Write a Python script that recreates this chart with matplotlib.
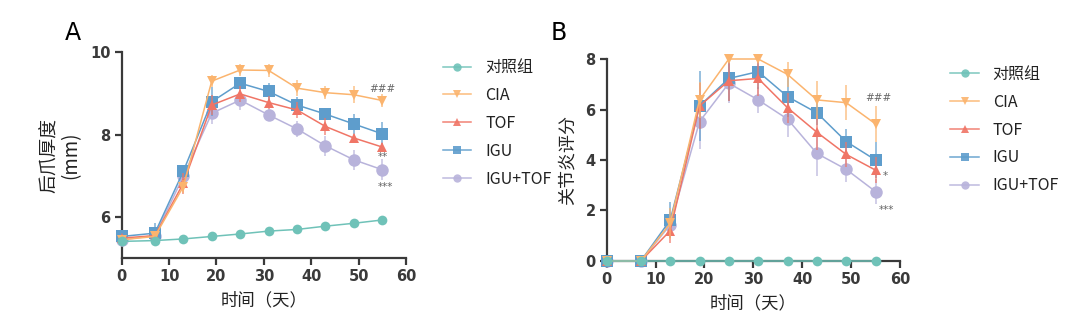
import numpy as np
import matplotlib.pyplot as plt
from matplotlib.lines import Line2D

plt.rcParams['font.family'] = ['Noto Sans CJK SC', 'DejaVu Sans']

# data ---------------------------------------------------------------------------------

days = [0, 7, 13, 19, 25, 31, 37, 43, 49, 55]
groups = ["对照组", "CIA", "TOF", "IGU", "IGU+TOF"]

paw_ctrl = [5.41, 5.43, 5.47, 5.53, 5.59, 5.66, 5.70, 5.78, 5.85, 5.93]
paw_cia = [5.45, 5.53, 6.74, 9.30, 9.57, 9.56, 9.13, 9.02, 8.97, 8.83]
paw_tof = [5.49, 5.55, 6.82, 8.72, 8.99, 8.78, 8.60, 8.20, 7.92, 7.70]
paw_igu = [5.53, 5.61, 7.11, 8.80, 9.25, 9.05, 8.72, 8.50, 8.26, 8.02]
paw_combo = [5.45, 5.55, 6.99, 8.52, 8.84, 8.48, 8.14, 7.73, 7.39, 7.15]

paw_ctrl_err = [0.03, 0.03, 0.03, 0.03, 0.03, 0.03, 0.03, 0.03, 0.03, 0.03]
paw_cia_err = [0.05, 0.05, 0.15, 0.15, 0.15, 0.15, 0.2, 0.15, 0.2, 0.15]
paw_tof_err = [0.05, 0.05, 0.25, 0.25, 0.2, 0.15, 0.2, 0.2, 0.1, 0.1]
paw_igu_err = [0.05, 0.25, 0.15, 0.35, 0.15, 0.2, 0.2, 0.15, 0.25, 0.3]
paw_combo_err = [0.05, 0.1, 0.1, 0.25, 0.25, 0.15, 0.2, 0.25, 0.25, 0.25]

score_ctrl = [0, 0, 0, 0, 0, 0, 0, 0, 0, 0]
score_cia = [0, 0, 1.49, 6.38, 8.0, 8.0, 7.39, 6.38, 6.27, 5.43]
score_tof = [0, 0, 1.20, 6.14, 7.14, 7.23, 6.07, 5.10, 4.22, 3.60]
score_igu = [0, 0, 1.62, 6.14, 7.23, 7.50, 6.51, 5.87, 4.73, 4.00]
score_combo = [0, 0, 1.43, 5.52, 7.04, 6.38, 5.62, 4.26, 3.63, 2.75]

score_ctrl_err = [0, 0, 0, 0, 0, 0, 0, 0, 0, 0]
score_cia_err = [0, 0, 0.6, 0.7, 0.0, 0.1, 0.5, 0.75, 0.7, 0.7]
score_tof_err = [0, 0, 0.5, 0.9, 0.8, 0.7, 0.6, 0.7, 0.5, 0.5]
score_igu_err = [0, 0, 0.7, 1.4, 0.9, 0.7, 0.8, 0.5, 0.5, 0.7]
score_combo_err = [0, 0, 0.5, 1.1, 0.8, 0.5, 0.7, 0.9, 0.5, 0.5]

# styles -------------------------------------------------------------------------------

colors = ["#6fc2b8", "#fbb46e", "#f07566", "#5e9dcc", "#b8b3db"]
markers = ["o", "v", "^", "s", "o"]
msizes = [7, 7, 7, 9, 9]
axis_col = "#3a3a3a"


def draw_panel(ax, series, errors, ylim, yticks):
    for i in range(len(series)):
        eb = ax.errorbar(days, series[i], yerr=errors[i], color=colors[i],
                         marker=markers[i], markersize=msizes[i], lw=1.1,
                         elinewidth=1.2, capsize=3.5, capthick=1.2,
                         markeredgewidth=0, zorder=3 + (len(series) - i),
                         clip_on=False)
        for part in eb.lines[1] + eb.lines[2]:
            part.set_alpha(0.75)
            part.set_clip_on(False)
    ax.set_xlim(0, 60)
    ax.set_ylim(*ylim)
    ax.set_xticks([0, 10, 20, 30, 40, 50, 60])
    ax.set_yticks(yticks)
    for s in ["top", "right"]:
        ax.spines[s].set_visible(False)
    for s in ["left", "bottom"]:
        ax.spines[s].set_color(axis_col)
        ax.spines[s].set_linewidth(1.6)
    ax.tick_params(colors=axis_col, width=1.6, length=5, labelsize=10.5,
                   pad=3)
    for lab in ax.get_xticklabels() + ax.get_yticklabels():
        lab.set_fontweight("bold")
        lab.set_family("DejaVu Sans")
    ax.set_xlabel("时间（天）", fontsize=12.5, color="#222222", labelpad=5)
    ax.patch.set_alpha(0)


def add_legend(ax, anchor):
    handles = [Line2D([], [], color=colors[i], marker=markers[i], lw=1.1,
                      markersize=6, markeredgewidth=0, alpha=0.9)
               for i in range(len(groups))]
    ax.legend(handles, groups, loc="upper left", bbox_to_anchor=anchor,
              bbox_transform=fig.transFigure, frameon=False, fontsize=11.5,
              handlelength=1.8, handletextpad=0.85, labelspacing=0.68,
              borderaxespad=0, labelcolor="#222222")


fig = plt.figure(figsize=(10.8, 3.3), dpi=100)

ax_a = fig.add_axes([0.1127, 0.2173, 0.2632, 0.6242])
draw_panel(ax_a, [paw_ctrl, paw_cia, paw_tof, paw_igu, paw_combo],
           [paw_ctrl_err, paw_cia_err, paw_tof_err, paw_igu_err, paw_combo_err],
           (5, 10), [6, 8, 10])
ax_a.set_ylabel("后爪厚度\n(mm)", fontsize=13.5, color="#222222", labelpad=6,
                linespacing=1.05)
ax_a.text(55, 9.12, "###", ha="center", va="center", fontsize=7.5,
          color="#666666", family="DejaVu Sans")
ax_a.text(55.2, 7.47, "**", ha="center", va="center", fontsize=7.5,
          color="#666666", family="DejaVu Sans")
ax_a.text(55.6, 6.74, "***", ha="center", va="center", fontsize=7.5,
          color="#666666", family="DejaVu Sans")
fig.text(0.06, 0.88, "A", fontsize=17, color="black", family="DejaVu Sans")
add_legend(ax_a, (0.404, 0.84))

ax_b = fig.add_axes([0.5617, 0.2091, 0.2716, 0.6121])
draw_panel(ax_b, [score_ctrl, score_cia, score_tof, score_igu, score_combo],
           [score_ctrl_err, score_cia_err, score_tof_err, score_igu_err,
            score_combo_err],
           (0, 8), [0, 2, 4, 6, 8])
ax_b.set_ylabel("关节炎评分", fontsize=13, color="#222222", labelpad=6)
ax_b.text(55.6, 6.45, "###", ha="center", va="center", fontsize=7.5,
          color="#666666", family="DejaVu Sans")
ax_b.text(57.0, 3.35, "*", ha="center", va="center", fontsize=7.5,
          color="#666666", family="DejaVu Sans")
ax_b.text(57.2, 2.02, "***", ha="center", va="center", fontsize=7.5,
          color="#666666", family="DejaVu Sans")
fig.text(0.51, 0.88, "B", fontsize=17, color="black", family="DejaVu Sans")
add_legend(ax_b, (0.874, 0.82))

fig.savefig("out.png", dpi=100)
